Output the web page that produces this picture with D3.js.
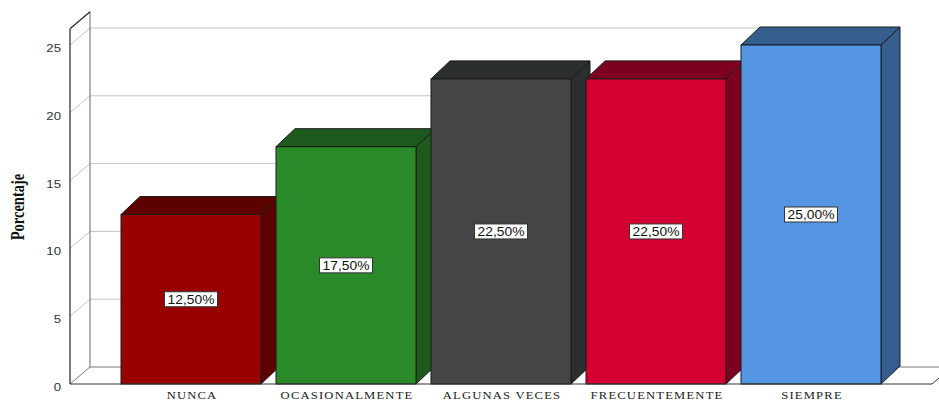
<!DOCTYPE html>
<html>
<head>
<meta charset="utf-8">
<script src="https://cdn.jsdelivr.net/npm/d3@7"></script>
<style>
  body { margin: 0; background: #fff; }
  svg { display: block; }
  .tick-label { font-family: "Liberation Sans", Arial, sans-serif; font-size: 11px; fill: #333; }
  .cat-label { font-family: "Liberation Serif", "Times New Roman", serif; font-size: 10.5px; letter-spacing: 1px; fill: #222; }
  .val-label { font-family: "Liberation Sans", Arial, sans-serif; font-size: 12px; fill: #111; }
</style>
</head>
<body>
<script>
// data
var categories = ["NUNCA", "OCASIONALMENTE", "ALGUNAS VECES", "FRECUENTEMENTE", "SIEMPRE"];
var percentages = [12.5, 17.5, 22.5, 22.5, 25.0];
var yTicks = [0, 5, 10, 15, 20, 25];

// palette (front face, top/side face)
var frontColors = ["#990000", "#2a8a2a", "#454547", "#d50032", "#5596e3"];
var sideColors = ["#5c0000", "#1e5a1e", "#2c2f2f", "#7e0020", "#355d8e"];

var W = 939, H = 401;
var svg = d3.select("body").append("svg").attr("width", W).attr("height", H);

// text in the original is stretched a bit horizontally
var stretch = 1.2;

// wall / floor depth and bar depth
var wd = { x: 20, y: -17 };
var bd = { x: 19, y: -18 };

var yFront = d3.scaleLinear().domain([0, 25]).range([384, 45]);
var yBack = function(v) { return yFront(v) + wd.y; };
var yMax = 26.2;

var x = d3.scaleBand().domain(categories).range([106, 896]).padding(15 / 155);

var left = 70, backRight = 900, floorRight = 932;

// gridlines on back wall and left wall
var grid = svg.append("g");
grid.selectAll(".gb")
  .data(yTicks.slice(1))
  .enter().append("line")
    .attr("x1", left + wd.x).attr("x2", backRight)
    .attr("y1", function(d) { return yBack(d); })
    .attr("y2", function(d) { return yBack(d); })
    .attr("stroke", "#c4c4c4").attr("stroke-width", 1);
grid.selectAll(".gl")
  .data(yTicks.slice(1))
  .enter().append("line")
    .attr("x1", left).attr("x2", left + wd.x)
    .attr("y1", function(d) { return yFront(d); })
    .attr("y2", function(d) { return yBack(d); })
    .attr("stroke", "#c4c4c4").attr("stroke-width", 1);

// floor edges
svg.append("line").attr("x1", left + wd.x).attr("x2", W)
  .attr("y1", yBack(0)).attr("y2", yBack(0)).attr("stroke", "#777");
svg.append("line").attr("x1", left).attr("x2", left + wd.x)
  .attr("y1", yFront(0)).attr("y2", yBack(0)).attr("stroke", "#777");
svg.append("line").attr("x1", floorRight).attr("x2", floorRight + wd.x)
  .attr("y1", yFront(0)).attr("y2", yBack(0)).attr("stroke", "#333");

// left wall edges
svg.append("line").attr("x1", left + wd.x).attr("x2", left + wd.x)
  .attr("y1", yBack(0)).attr("y2", yBack(yMax)).attr("stroke", "#666");
svg.append("line").attr("x1", left).attr("x2", left + wd.x)
  .attr("y1", yFront(yMax)).attr("y2", yBack(yMax)).attr("stroke", "#222").attr("stroke-width", 1.2);

// bars
var bars = svg.selectAll(".bar")
  .data(percentages)
  .enter().append("g")
    .attr("class", "bar");

bars.each(function(v, i) {
  var g = d3.select(this);
  var x0 = x(categories[i]), w = x.bandwidth();
  var top = yFront(v), bot = yFront(0);
  var line = d3.line();
  // side
  g.append("path")
    .attr("d", line([[x0 + w, top], [x0 + w + bd.x, top + bd.y], [x0 + w + bd.x, bot + bd.y], [x0 + w, bot]]) + "Z")
    .attr("fill", sideColors[i]).attr("stroke", "#1a1a1a").attr("stroke-width", 1);
  // top
  g.append("path")
    .attr("d", line([[x0, top], [x0 + bd.x, top + bd.y], [x0 + w + bd.x, top + bd.y], [x0 + w, top]]) + "Z")
    .attr("fill", sideColors[i]).attr("stroke", "#1a1a1a").attr("stroke-width", 1);
  // front
  g.append("rect")
    .attr("x", x0).attr("y", top)
    .attr("width", w).attr("height", bot - top)
    .attr("fill", frontColors[i]).attr("stroke", "#1a1a1a").attr("stroke-width", 1);
});

// front floor line and left wall front edge (drawn over)
svg.append("line").attr("x1", left).attr("x2", floorRight)
  .attr("y1", yFront(0)).attr("y2", yFront(0)).attr("stroke", "#333").attr("stroke-width", 1.2);
svg.append("line").attr("x1", left).attr("x2", left)
  .attr("y1", yFront(0)).attr("y2", yFront(yMax)).attr("stroke", "#222").attr("stroke-width", 1.2);

// value labels
bars.each(function(v, i) {
  var cx = x(categories[i]) + x.bandwidth() / 2;
  var cy = (yFront(v) + yFront(0)) / 2;
  var txt = v.toFixed(2).replace(".", ",") + "%";
  var g = d3.select(this).append("g")
    .attr("transform", "translate(" + cx + "," + cy + ")");
  g.append("rect")
    .attr("x", -26.5).attr("y", -7.5)
    .attr("width", 53).attr("height", 15)
    .attr("fill", "#fff").attr("stroke", "#333").attr("stroke-width", 1);
  g.append("text")
    .attr("class", "val-label")
    .attr("transform", "scale(" + 1.15 + ",1)")
    .attr("y", 4.5)
    .attr("text-anchor", "middle")
    .text(txt);
});

// y tick labels
svg.selectAll(".ytl")
  .data(yTicks)
  .enter().append("text")
    .attr("class", "tick-label")
    .attr("transform", function(d) { return "translate(61," + (yFront(d) + 7) + ") scale(" + stretch + ",1)"; })
    .attr("text-anchor", "end")
    .text(function(d) { return d; });

// category labels
svg.selectAll(".xl")
  .data(categories)
  .enter().append("text")
    .attr("class", "cat-label")
    .attr("transform", function(d) { return "translate(" + (x(d) + x.bandwidth() / 2 + 1) + ",399) scale(" + stretch + ",1)"; })
    .attr("text-anchor", "middle")
    .text(function(d) { return d; });

// y axis title
svg.append("text")
  .attr("transform", "translate(24,207) scale(1.25,1) rotate(-90)")
  .attr("text-anchor", "middle")
  .style("font-family", "'Liberation Serif', 'Times New Roman', serif")
  .style("font-weight", "bold")
  .style("font-size", "14.5px")
  .style("fill", "#111")
  .text("Porcentaje");
</script>
</body>
</html>
